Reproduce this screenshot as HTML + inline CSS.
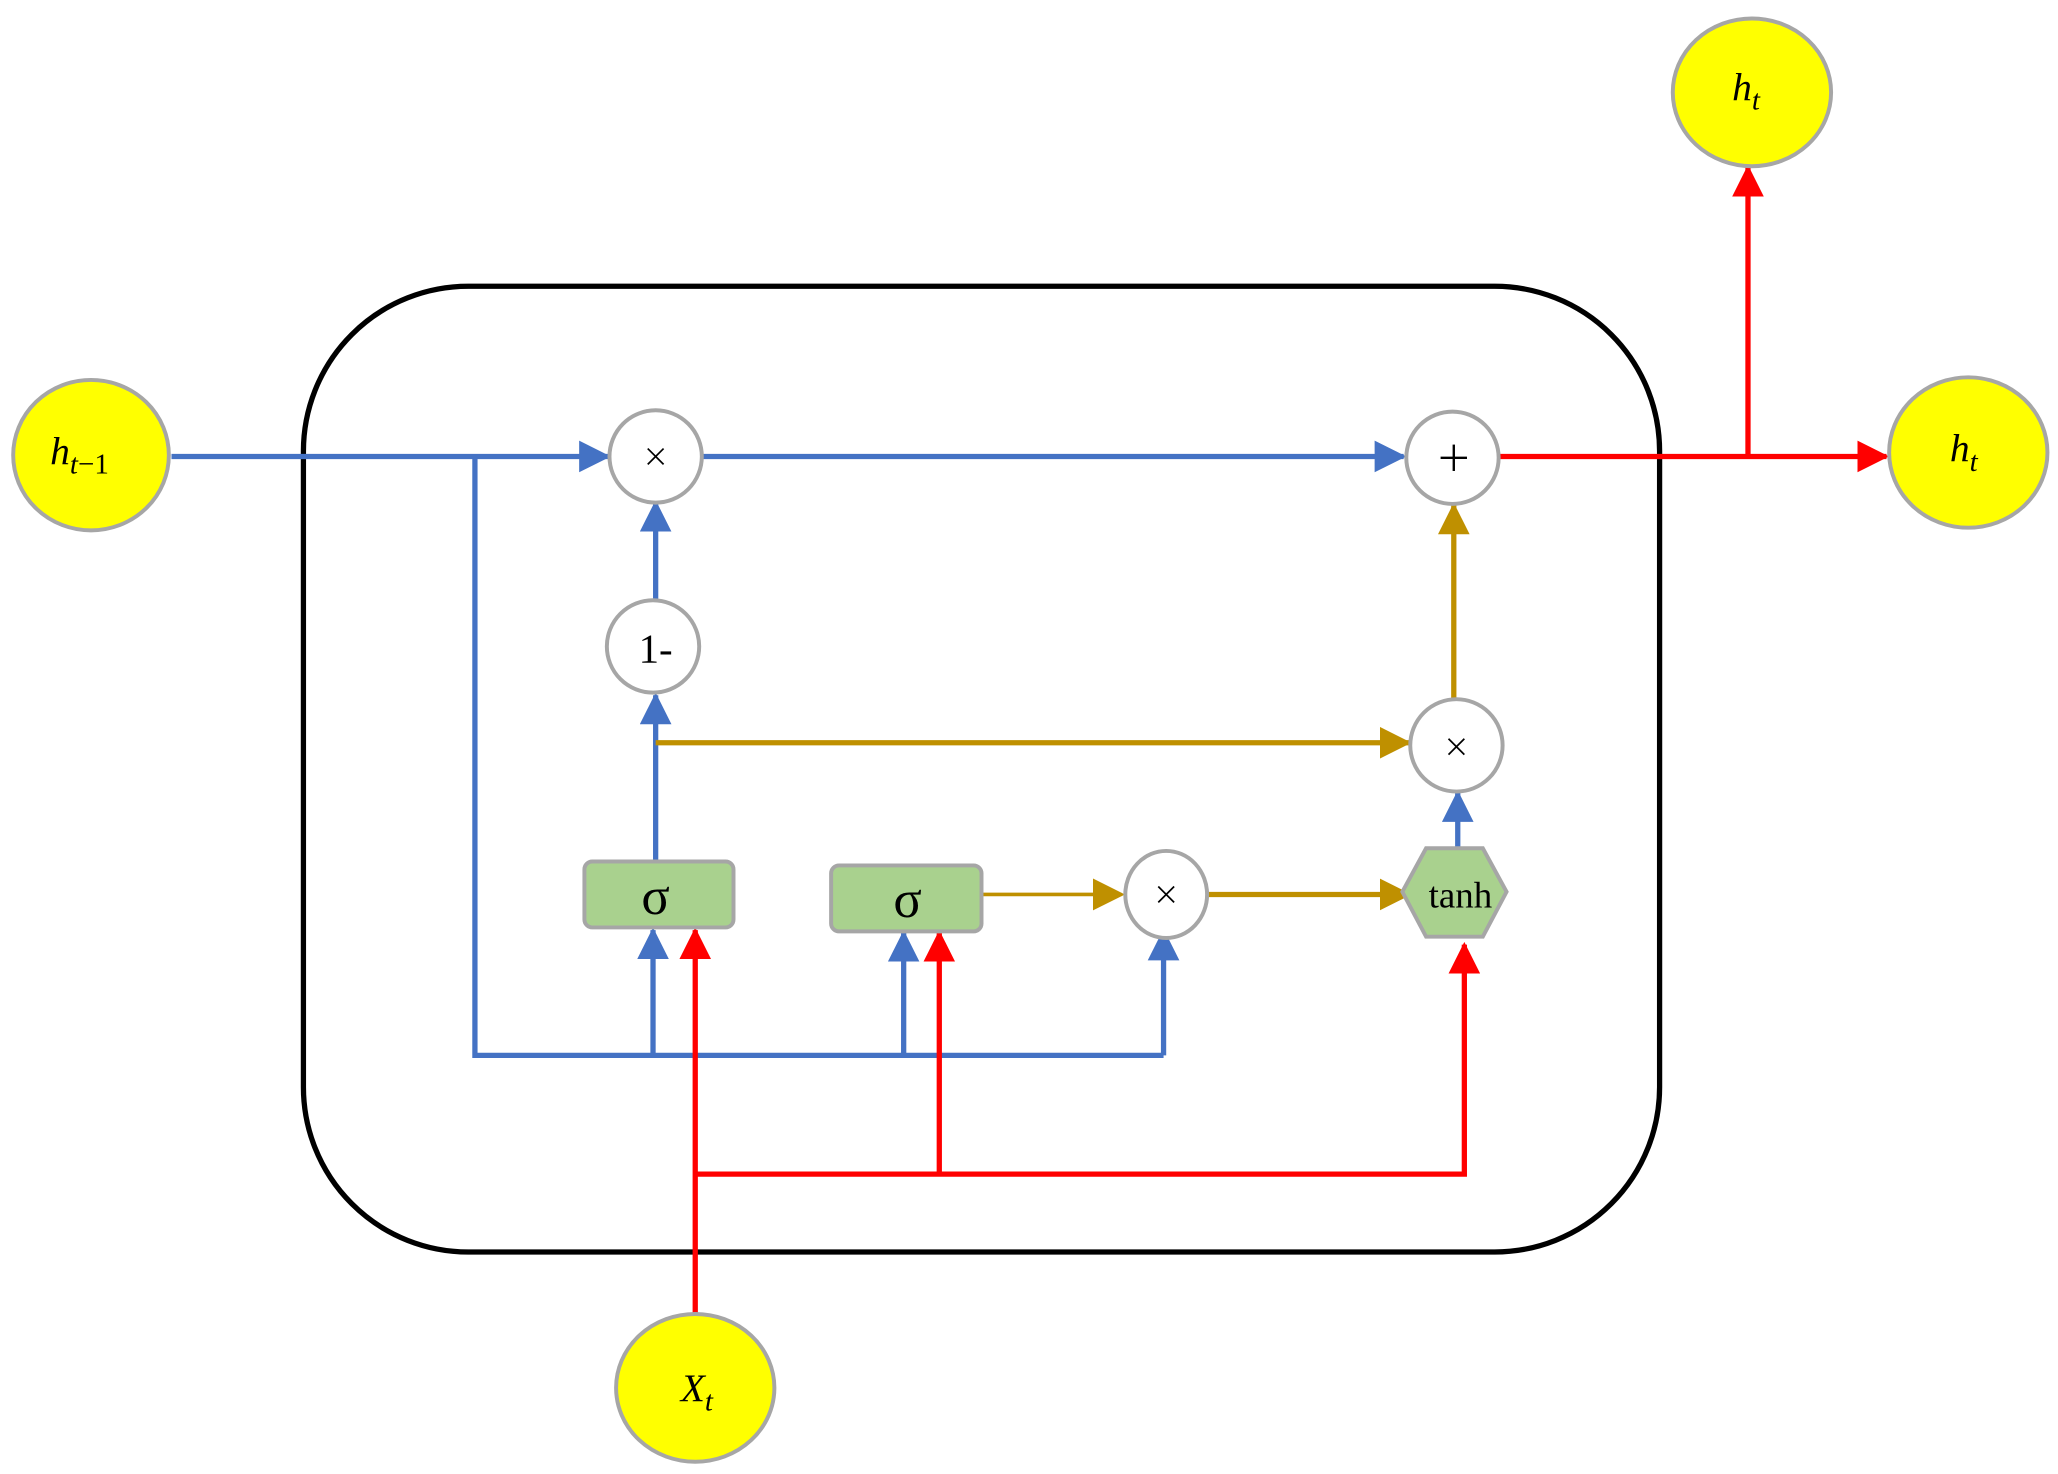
<!DOCTYPE html>
<html><head><meta charset="utf-8"><style>
html,body{margin:0;padding:0;background:#fff;}
svg{display:block;}
text{font-family:"Liberation Serif",serif;}
</style></head><body>
<svg width="2058" height="1474" viewBox="0 0 1560 1117.3" preserveAspectRatio="none" xmlns="http://www.w3.org/2000/svg">
<defs>
<marker id="ab" markerWidth="6" markerHeight="6" refX="5.5" refY="3" orient="auto" markerUnits="strokeWidth"><path d="M0,0 L6,3 L0,6 z" fill="#4472c4"/></marker>
<marker id="ar" markerWidth="6" markerHeight="6" refX="5.5" refY="3" orient="auto" markerUnits="strokeWidth"><path d="M0,0 L6,3 L0,6 z" fill="#ff0000"/></marker>
<marker id="ag" markerWidth="6" markerHeight="6" refX="5.5" refY="3" orient="auto" markerUnits="strokeWidth"><path d="M0,0 L6,3 L0,6 z" fill="#bf9000"/></marker>
<marker id="ag2" markerWidth="9" markerHeight="9" refX="8" refY="4.5" orient="auto" markerUnits="strokeWidth"><path d="M0,0 L9,4.5 L0,9 z" fill="#bf9000"/></marker>
</defs>
<rect x="230" y="217" width="1028" height="732" rx="125" ry="125" fill="none" stroke="#000" stroke-width="4"/>

<g fill="none" stroke="#4472c4" stroke-width="4">
<line x1="130" y1="346" x2="461" y2="346" marker-end="url(#ab)"/>
<line x1="533" y1="346" x2="1064" y2="346" marker-end="url(#ab)"/>
<polyline points="360,346 360,800 882,800"/>
<line x1="495" y1="800" x2="495" y2="705" marker-end="url(#ab)"/>
<line x1="685" y1="800" x2="685" y2="707" marker-end="url(#ab)"/>
<line x1="882" y1="800" x2="882" y2="706" marker-end="url(#ab)"/>
<line x1="497" y1="653" x2="497" y2="527" marker-end="url(#ab)"/>
<line x1="497" y1="455" x2="497" y2="381" marker-end="url(#ab)"/>
<line x1="1105" y1="643" x2="1105" y2="601" marker-end="url(#ab)"/>
</g>
<g fill="none" stroke="#bf9000" stroke-width="4">
<line x1="497" y1="563" x2="1068" y2="563" marker-end="url(#ag)"/>
<line x1="1102" y1="530" x2="1102" y2="383" marker-end="url(#ag)"/>
<line x1="915" y1="678" x2="1068" y2="678" marker-end="url(#ag)"/>
<line x1="745" y1="678" x2="850" y2="678" stroke-width="2.7" marker-end="url(#ag2)"/>
</g>
<g fill="none" stroke="#ff0000" stroke-width="4">
<line x1="527" y1="997" x2="527" y2="705" marker-end="url(#ar)"/>
<polyline points="527,890 1110,890 1110,716" marker-end="url(#ar)"/>
<line x1="712" y1="890" x2="712" y2="707" marker-end="url(#ar)"/>
<line x1="1137" y1="346" x2="1430" y2="346" marker-end="url(#ar)"/>
<line x1="1325" y1="346" x2="1325" y2="127" marker-end="url(#ar)"/>
</g>

<g fill="#ffff00" stroke="#a6a6a6" stroke-width="3">
<ellipse cx="69" cy="345" rx="59" ry="57"/>
<ellipse cx="1328" cy="70" rx="60" ry="56"/>
<ellipse cx="1492" cy="343" rx="60" ry="57"/>
<ellipse cx="527" cy="1052" rx="60" ry="56"/>
</g>
<g fill="#fff" stroke="#a6a6a6" stroke-width="3">
<circle cx="497" cy="346" r="35"/>
<circle cx="1101" cy="347" r="35"/>
<circle cx="495" cy="490" r="35"/>
<circle cx="1104" cy="565" r="35"/>
<ellipse cx="884" cy="678" rx="31" ry="33"/>
</g>
<g fill="#a9d18e" stroke="#a6a6a6" stroke-width="3">
<rect x="443" y="653" width="113" height="50" rx="6"/>
<rect x="630" y="656" width="114" height="50" rx="6"/>
<polygon points="1063,676 1081,643 1124,643 1142,676 1124,710 1081,710"/>
</g>
<g stroke="#000" stroke-width="1.3">
<line x1="491" y1="340" x2="503" y2="352"/><line x1="503" y1="340" x2="491" y2="352"/>
<line x1="1098" y1="560" x2="1110" y2="572"/><line x1="1110" y1="560" x2="1098" y2="572"/>
<line x1="878" y1="672" x2="890" y2="684"/><line x1="890" y1="672" x2="878" y2="684"/>
<line x1="1092" y1="347" x2="1112" y2="347" stroke-width="1.8"/><line x1="1102" y1="337" x2="1102" y2="357" stroke-width="1.8"/>
</g>
<g fill="#000">
<text x="497" y="502" font-size="31" text-anchor="middle">1-</text>
<text x="497" y="693" font-size="40" text-anchor="middle">σ</text>
<text x="688" y="695" font-size="40" text-anchor="middle">σ</text>
<text x="1107" y="688" font-size="28" text-anchor="middle">tanh</text>
<text x="38" y="352" font-size="30" font-style="italic">h<tspan font-size="22" dy="7">t</tspan><tspan font-size="22" font-style="normal">−1</tspan></text>
<text x="1313" y="76" font-size="30" font-style="italic">h<tspan font-size="22" dy="7">t</tspan></text>
<text x="1478" y="350" font-size="30" font-style="italic">h<tspan font-size="22" dy="7">t</tspan></text>
<text x="516" y="1062" font-size="30" font-style="italic">X<tspan font-size="22" dy="7">t</tspan></text>
</g>
</svg>
</body></html>
